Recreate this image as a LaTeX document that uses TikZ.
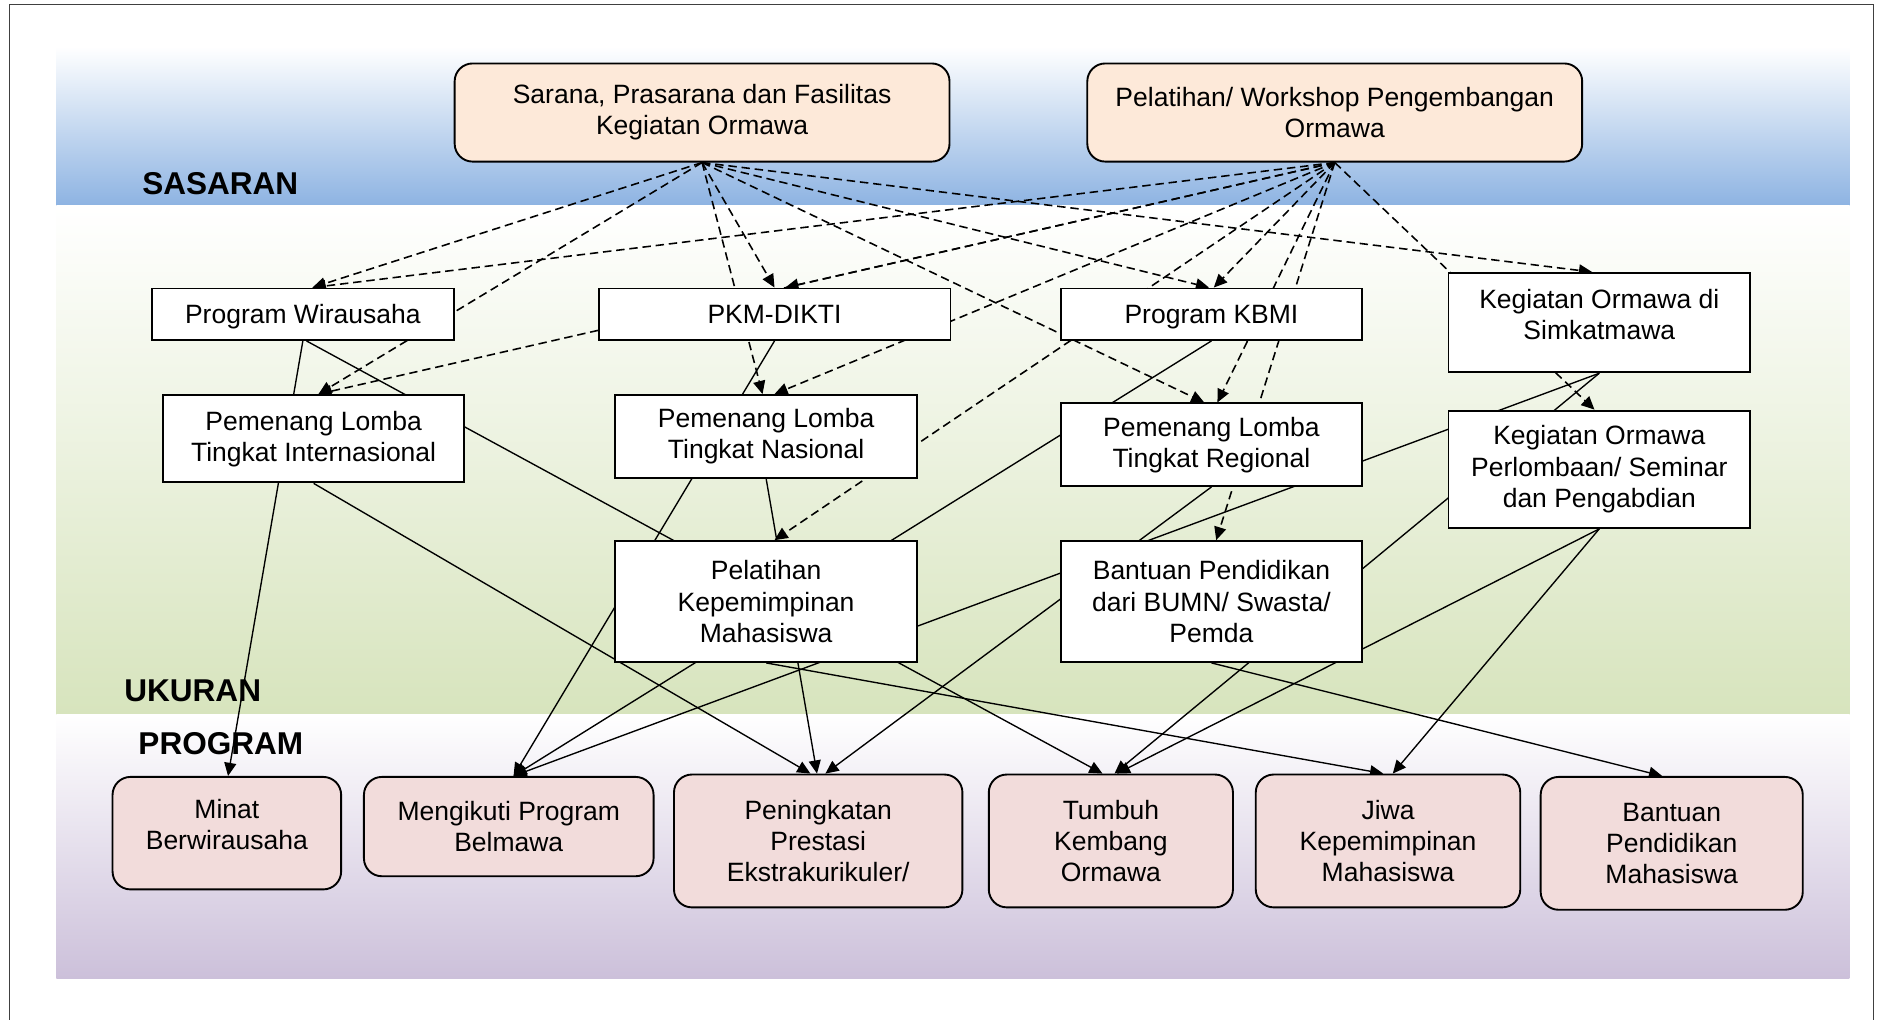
\documentclass[tikz,border=0pt]{standalone}
\usepackage{fontspec}
\setmainfont{Liberation Sans}
\usetikzlibrary{arrows.meta}
\definecolor{sasblue}{HTML}{8DB3E2}
\definecolor{ukgreen}{HTML}{D7E4BD}
\definecolor{proglav}{HTML}{CCC0DA}
\definecolor{peach}{HTML}{FDE9D9}
\definecolor{rose}{HTML}{F2DCDB}
\pgfdeclarelayer{bands}
\pgfdeclarelayer{lines}
\pgfsetlayers{bands,lines,main}

\begin{document}
\begin{tikzpicture}[x=0.02cm,y=-0.02cm,
	txt/.style={font=\fontsize{12.6}{14.8}\selectfont, align=center, inner sep=0pt},
	sasbox/.style={txt, draw, line width=0.9pt, rounded corners=0.3cm, fill=peach, minimum width=8.27cm, minimum height=1.64cm},
	midbox/.style={txt, draw, line width=0.9pt, fill=white, minimum width=5.04cm},
	ukbox/.style={txt, draw, line width=0.9pt, rounded corners=0.3cm, fill=rose, minimum height=2.22cm},
	bandlabel/.style={font=\bfseries\fontsize{15}{18}\selectfont, inner sep=0pt},
	dashline/.style={line width=0.75pt, dash pattern=on 4pt off 2.3pt, -{Triangle[length=2.2mm,width=2mm]}},
	solidline/.style={line width=0.65pt, -{Triangle[length=2.2mm,width=2mm]}}]
		\useasboundingbox (0,0) rectangle (1568,852);
		\draw[black!75, line width=0.6pt] (8,852) -- (8,4) -- (1565,4) -- (1565,852);
		% sasaran
		\node[sasbox] (sarana) at (586.5,94) {Sarana, Prasarana dan Fasilitas\\Kegiatan Ormawa};
		\node[sasbox] (pelatihan) at (1115,94) {Pelatihan/ Workshop Pengembangan\\Ormawa};
		% program
		\node[midbox, minimum height=0.86cm, text depth=0pt] (wirausaha) at (253,262.5) {Program Wirausaha};
		\node[midbox, minimum width=5.88cm, minimum height=0.86cm] (pkm) at (647,262.5) {PKM-DIKTI};
		\node[midbox, minimum height=0.86cm, text depth=0pt] (kbmi) at (1012,262.5) {Program KBMI};
		\node[midbox, minimum height=1.66cm, text depth=0.27cm] (simkat) at (1336,269.5) {Kegiatan Ormawa di\\Simkatmawa};
		\node[midbox, minimum height=1.46cm] (inter) at (262,366.5) {Pemenang Lomba\\Tingkat Internasional};
		\node[midbox, minimum height=1.38cm] (nasional) at (640,364.5) {Pemenang Lomba\\Tingkat Nasional};
		\node[midbox, minimum height=1.38cm] (regional) at (1012,371.5) {Pemenang Lomba\\Tingkat Regional};
		\node[midbox, minimum height=1.96cm] (perlomba) at (1336,392) {Kegiatan Ormawa\\Perlombaan/ Seminar\\dan Pengabdian};
		\node[midbox, minimum height=2.02cm] (kepemimpinan) at (640,502.5) {Pelatihan\\Kepemimpinan\\Mahasiswa};
		\node[midbox, minimum height=2.02cm] (bumn) at (1012,502.5) {Bantuan Pendidikan\\dari BUMN/ Swasta/\\Pemda};
		% ukuran
		\node[ukbox, minimum width=3.82cm, minimum height=1.88cm, text depth=0.29cm] (minat) at (189.5,696) {Minat\\Berwirausaha};
		\node[ukbox, minimum width=4.84cm, minimum height=1.66cm] (belmawa) at (425,690.5) {Mengikuti Program\\Belmawa};
		\node[ukbox, minimum width=4.82cm] (prestasi) at (683.5,702.5) {Peningkatan\\Prestasi\\Ekstrakurikuler/};
		\node[ukbox, minimum width=4.08cm] (tumbuh) at (928,702.5) {Tumbuh\\Kembang\\Ormawa};
		\node[ukbox, minimum width=4.42cm] (jiwa) at (1159.5,702.5) {Jiwa\\Kepemimpinan\\Mahasiswa};
		\node[ukbox, minimum width=4.38cm] (bantuan) at (1396.5,704.5) {Bantuan\\Pendidikan\\Mahasiswa};
		% band labels
		\node[bandlabel] (sasaran) at (184,153) {SASARAN};
		\node[bandlabel] (ukuran) at (161,577) {UKURAN};
		\node[bandlabel] (program) at (184.5,621) {PROGRAM};
		\begin{pgfonlayer}{lines}
			% dashed from Sarana
			\draw[dashline] (sarana.south) -- ([xshift=0.16cm]wirausaha.north);
			\draw[dashline] (sarana.south) -- ([xshift=0.08cm]inter.north);
			\draw[dashline] (sarana.south) -- (pkm.north);
			\draw[dashline] (sarana.south) -- ([xshift=-0.06cm]nasional.north);
			\draw[dashline] (sarana.south) -- ([xshift=-0.04cm]kbmi.north);
			\draw[dashline] (sarana.south) -- ([xshift=-0.12cm]regional.north);
			\draw[dashline] (sarana.south) -- ([xshift=-0.12cm]simkat.north);
			% dashed from Pelatihan
			\draw[dashline] (pelatihan.south) -- ([xshift=0.16cm]wirausaha.north);
			\draw[dashline] (pelatihan.south) -- ([xshift=0.08cm]inter.north);
			\draw[dashline] (pelatihan.south) -- ([xshift=0.18cm]pkm.north);
			\draw[dashline] (pelatihan.south) -- ([xshift=0.14cm]nasional.north);
			\draw[dashline] (pelatihan.south) -- ([xshift=0.14cm]kepemimpinan.north);
			\draw[dashline] (pelatihan.south) -- ([xshift=0.04cm]kbmi.north);
			\draw[dashline] (pelatihan.south) -- ([xshift=0.10cm]regional.north);
			\draw[dashline] (pelatihan.south) -- ([xshift=0.08cm]bumn.north);
			\draw[dashline] (pelatihan.south) -- ([xshift=-0.08cm]perlomba.north);
			% solid to ukuran
			\draw[solidline] (wirausaha.south) -- ([xshift=0.02cm]minat.north);
			\draw[solidline] ([xshift=0.06cm]wirausaha.south) -- ([xshift=-0.14cm]tumbuh.north);
			\draw[solidline] (inter.south) -- ([xshift=-0.13cm]prestasi.north);
			\draw[solidline] (pkm.south) -- ([xshift=0.08cm]belmawa.north);
			\draw[solidline] (nasional.south) -- ([xshift=-0.02cm]prestasi.north);
			\draw[solidline] (kbmi.south) -- ([xshift=0.08cm]belmawa.north);
			\draw[solidline] (kepemimpinan.south) -- ([xshift=-0.08cm]jiwa.north);
			\draw[solidline] (regional.south) -- ([xshift=0.12cm]prestasi.north);
			\draw[solidline] (simkat.south) -- ([xshift=0.08cm]belmawa.north);
			\draw[solidline] (simkat.south) -- ([xshift=0.06cm]tumbuh.north);
			\draw[solidline] (perlomba.south) -- ([xshift=0.10cm]tumbuh.north);
			\draw[solidline] (perlomba.south) -- ([xshift=0.08cm]jiwa.north);
			\draw[solidline] (bumn.south) -- ([xshift=-0.16cm]bantuan.north);
		\end{pgfonlayer}
		\begin{pgfonlayer}{bands}
			\shade[top color=white, bottom color=sasblue] (47,39) rectangle (1545,172);
			\shade[top color=white, bottom color=ukgreen] (47,172) rectangle (1545,597);
			\shade[top color=white, bottom color=proglav] (47,597) rectangle (1545,817);
		\end{pgfonlayer}
	\end{tikzpicture}
\end{document}
